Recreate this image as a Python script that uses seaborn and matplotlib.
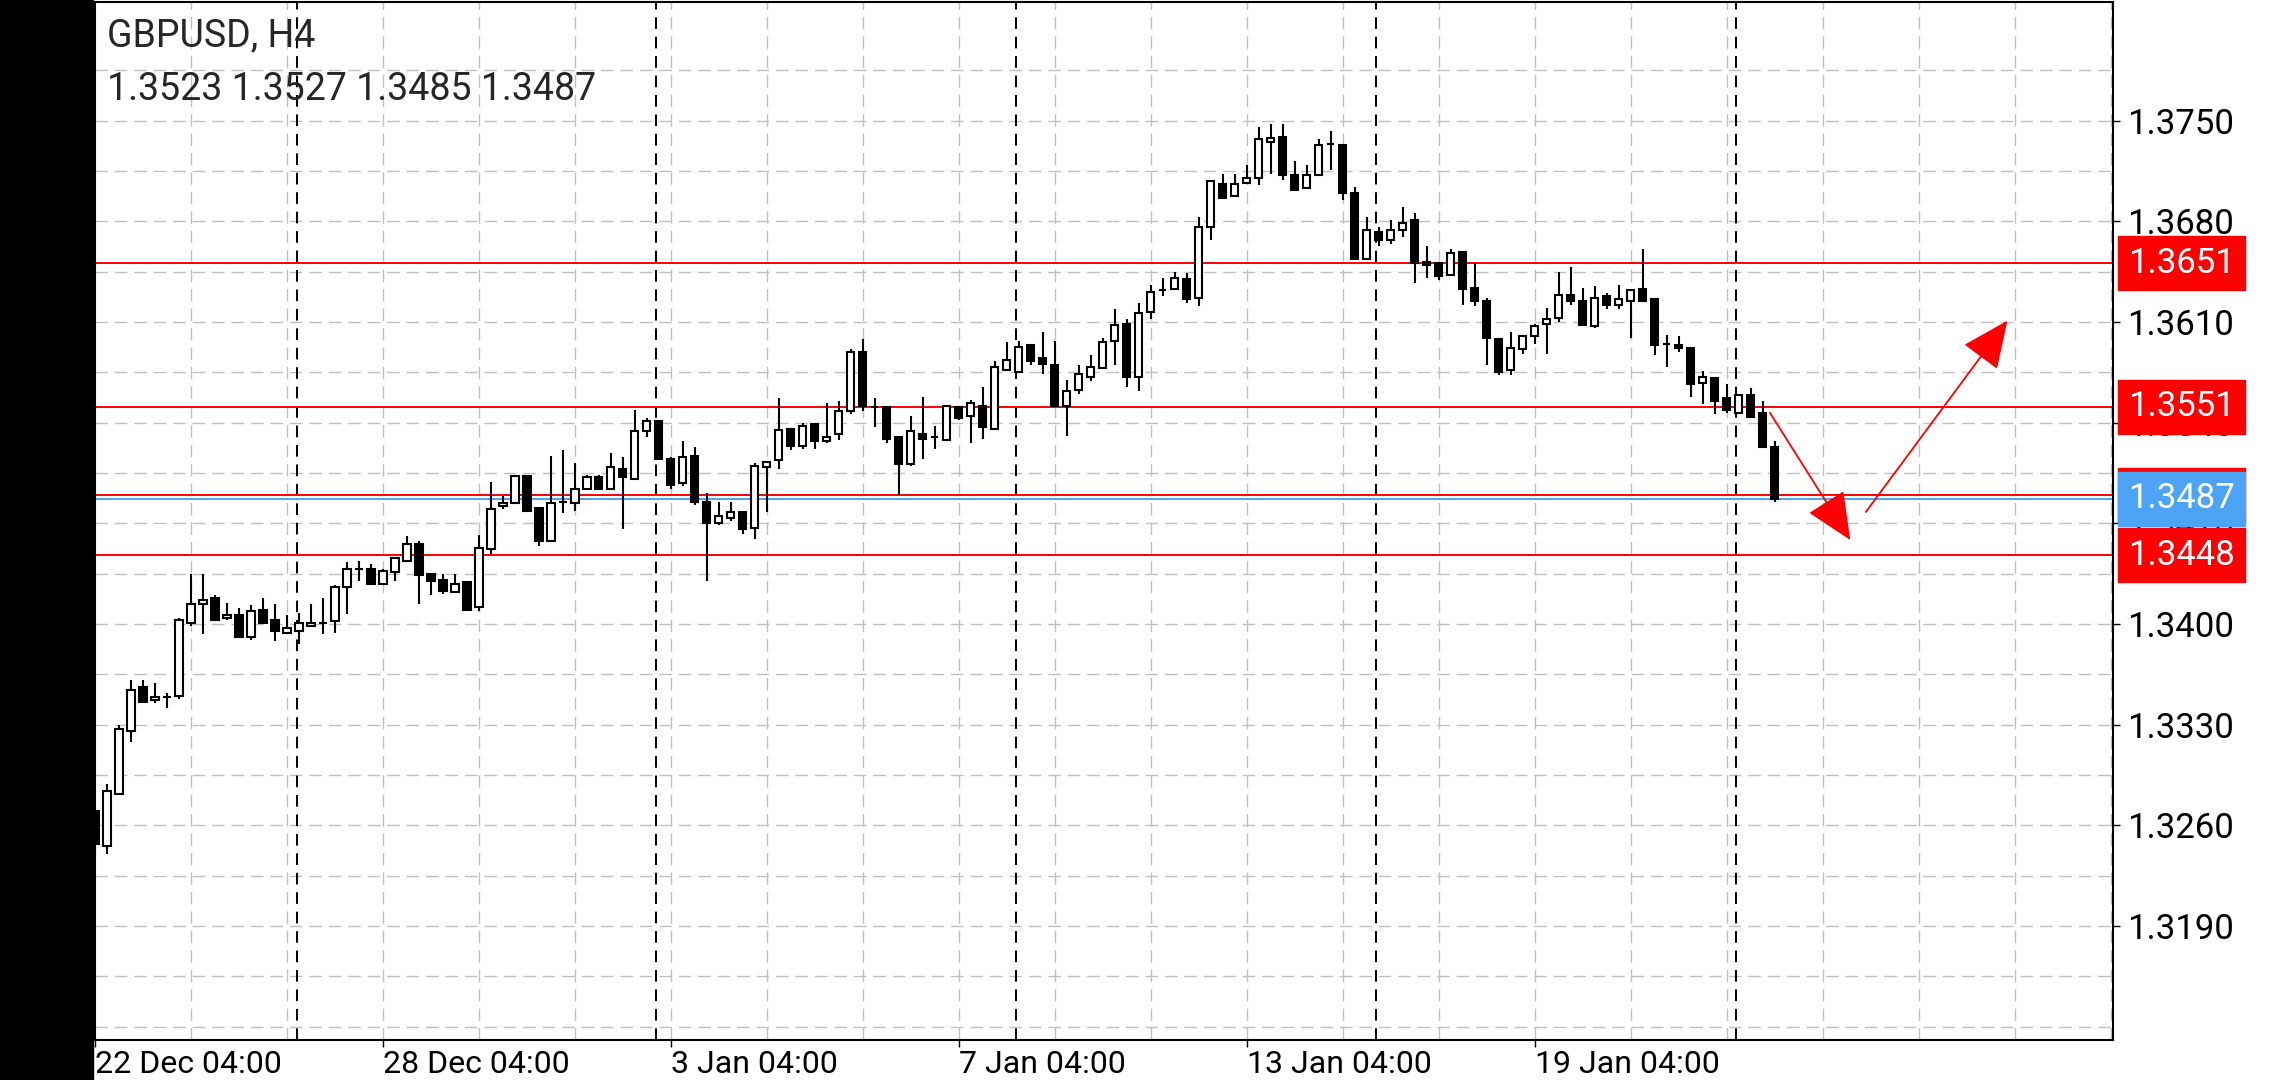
import numpy as np
import pandas as pd
import matplotlib
matplotlib.use("Agg")
import matplotlib.pyplot as plt
from matplotlib.patches import Rectangle
from matplotlib.transforms import blended_transform_factory
import seaborn as sns

symbol = "GBPUSD, H4"
ohlc_text = "1.3523 1.3527 1.3485 1.3487"

opens = [1.3270, 1.3246, 1.3282, 1.3326, 1.3356, 1.3347, 1.3349, 1.3350, 1.3401, 1.3414,
         1.3418, 1.3404, 1.3406, 1.3391, 1.3410, 1.3403, 1.3394, 1.3395, 1.3399, 1.3401,
         1.3402, 1.3426, 1.3438, 1.3438, 1.3428, 1.3436, 1.3444, 1.3456, 1.3435, 1.3431,
         1.3422, 1.3429, 1.3412, 1.3452, 1.3482, 1.3484, 1.3503, 1.3481, 1.3458, 1.3485,
         1.3484, 1.3494, 1.3502, 1.3494, 1.3508, 1.3501, 1.3534, 1.3541, 1.3515, 1.3498,
         1.3517, 1.3485, 1.3470, 1.3474, 1.3478, 1.3467, 1.3509, 1.3514, 1.3536, 1.3524,
         1.3539, 1.3527, 1.3532, 1.3548, 1.3589, 1.3551, 1.3551, 1.3530, 1.3511, 1.3532,
         1.3530, 1.3528, 1.3551, 1.3545, 1.3552, 1.3536, 1.3577, 1.3575, 1.3594, 1.3585,
         1.3580, 1.3552, 1.3563, 1.3572, 1.3578, 1.3597, 1.3609, 1.3572, 1.3617, 1.3632,
         1.3633, 1.3640, 1.3627, 1.3676, 1.3706, 1.3698, 1.3707, 1.3710, 1.3735, 1.3739,
         1.3712, 1.3703, 1.3712, 1.3734, 1.3733, 1.3700, 1.3654, 1.3673, 1.3667, 1.3674,
         1.3681, 1.3652, 1.3651, 1.3643, 1.3659, 1.3634, 1.3625, 1.3598, 1.3577, 1.3591,
         1.3600, 1.3609, 1.3613, 1.3629, 1.3625, 1.3607, 1.3628, 1.3622, 1.3625, 1.3633,
         1.3626, 1.3595, 1.3594, 1.3592, 1.3568, 1.3571, 1.3557, 1.3547, 1.3559, 1.3547,
         1.3523]
highs = [1.3272, 1.3289, 1.3330, 1.3361, 1.3361, 1.3359, 1.3352, 1.3404, 1.3435, 1.3435,
         1.3420, 1.3415, 1.3411, 1.3413, 1.3418, 1.3414, 1.3406, 1.3408, 1.3414, 1.3418,
         1.3427, 1.3443, 1.3444, 1.3442, 1.3438, 1.3446, 1.3461, 1.3458, 1.3435, 1.3435,
         1.3435, 1.3429, 1.3462, 1.3499, 1.3489, 1.3504, 1.3504, 1.3481, 1.3517, 1.3521,
         1.3512, 1.3504, 1.3504, 1.3519, 1.3516, 1.3549, 1.3543, 1.3541, 1.3516, 1.3527,
         1.3523, 1.3491, 1.3485, 1.3485, 1.3478, 1.3512, 1.3513, 1.3557, 1.3536, 1.3540,
         1.3539, 1.3554, 1.3555, 1.3591, 1.3598, 1.3557, 1.3551, 1.3530, 1.3545, 1.3558,
         1.3538, 1.3552, 1.3551, 1.3556, 1.3565, 1.3583, 1.3596, 1.3597, 1.3595, 1.3603,
         1.3597, 1.3570, 1.3580, 1.3587, 1.3599, 1.3619, 1.3612, 1.3623, 1.3636, 1.3641,
         1.3645, 1.3644, 1.3683, 1.3708, 1.3713, 1.3713, 1.3719, 1.3746, 1.3748, 1.3748,
         1.3722, 1.3719, 1.3737, 1.3743, 1.3733, 1.3704, 1.3683, 1.3676, 1.3681, 1.3690,
         1.3686, 1.3663, 1.3651, 1.3661, 1.3659, 1.3651, 1.3627, 1.3598, 1.3603, 1.3600,
         1.3609, 1.3620, 1.3645, 1.3648, 1.3634, 1.3635, 1.3630, 1.3636, 1.3633, 1.3661,
         1.3626, 1.3601, 1.3600, 1.3592, 1.3576, 1.3571, 1.3567, 1.3559, 1.3564, 1.3555,
         1.3527]
lows = [1.3240, 1.3240, 1.3282, 1.3318, 1.3346, 1.3345, 1.3342, 1.3348, 1.3399, 1.3393,
        1.3403, 1.3403, 1.3391, 1.3389, 1.3401, 1.3388, 1.3393, 1.3386, 1.3398, 1.3393,
        1.3394, 1.3407, 1.3430, 1.3428, 1.3427, 1.3430, 1.3444, 1.3414, 1.3420, 1.3421,
        1.3422, 1.3409, 1.3409, 1.3449, 1.3480, 1.3484, 1.3479, 1.3454, 1.3458, 1.3477,
        1.3479, 1.3494, 1.3494, 1.3494, 1.3466, 1.3501, 1.3530, 1.3515, 1.3494, 1.3496,
        1.3483, 1.3430, 1.3469, 1.3472, 1.3463, 1.3459, 1.3478, 1.3508, 1.3521, 1.3522,
        1.3522, 1.3526, 1.3528, 1.3546, 1.3548, 1.3537, 1.3526, 1.3490, 1.3510, 1.3515,
        1.3522, 1.3527, 1.3542, 1.3526, 1.3529, 1.3535, 1.3576, 1.3575, 1.3580, 1.3574,
        1.3552, 1.3531, 1.3560, 1.3569, 1.3578, 1.3580, 1.3565, 1.3562, 1.3612, 1.3628,
        1.3633, 1.3623, 1.3621, 1.3667, 1.3696, 1.3698, 1.3707, 1.3705, 1.3713, 1.3709,
        1.3701, 1.3703, 1.3712, 1.3716, 1.3695, 1.3654, 1.3653, 1.3663, 1.3664, 1.3669,
        1.3637, 1.3641, 1.3639, 1.3643, 1.3622, 1.3621, 1.3580, 1.3573, 1.3573, 1.3588,
        1.3595, 1.3588, 1.3610, 1.3622, 1.3608, 1.3606, 1.3619, 1.3619, 1.3599, 1.3625,
        1.3587, 1.3579, 1.3589, 1.3558, 1.3553, 1.3546, 1.3547, 1.3547, 1.3544, 1.3523,
        1.3485]
closes = [1.3247, 1.3284, 1.3327, 1.3354, 1.3346, 1.3349, 1.3349, 1.3403, 1.3414, 1.3417,
          1.3403, 1.3406, 1.3391, 1.3409, 1.3401, 1.3395, 1.3397, 1.3401, 1.3401, 1.3401,
          1.3426, 1.3438, 1.3438, 1.3428, 1.3437, 1.3446, 1.3456, 1.3434, 1.3430, 1.3423,
          1.3428, 1.3410, 1.3453, 1.3480, 1.3484, 1.3503, 1.3479, 1.3458, 1.3484, 1.3485,
          1.3494, 1.3502, 1.3494, 1.3509, 1.3502, 1.3534, 1.3541, 1.3515, 1.3497, 1.3516,
          1.3485, 1.3470, 1.3475, 1.3478, 1.3466, 1.3510, 1.3513, 1.3535, 1.3524, 1.3538,
          1.3527, 1.3530, 1.3548, 1.3589, 1.3552, 1.3551, 1.3529, 1.3511, 1.3534, 1.3529,
          1.3530, 1.3552, 1.3543, 1.3554, 1.3537, 1.3579, 1.3584, 1.3593, 1.3583, 1.3581,
          1.3552, 1.3562, 1.3574, 1.3579, 1.3596, 1.3608, 1.3572, 1.3616, 1.3631, 1.3632,
          1.3641, 1.3626, 1.3676, 1.3708, 1.3696, 1.3706, 1.3710, 1.3737, 1.3738, 1.3712,
          1.3702, 1.3712, 1.3733, 1.3734, 1.3700, 1.3654, 1.3674, 1.3667, 1.3674, 1.3679,
          1.3651, 1.3650, 1.3642, 1.3658, 1.3633, 1.3625, 1.3599, 1.3575, 1.3592, 1.3600,
          1.3607, 1.3612, 1.3629, 1.3625, 1.3608, 1.3627, 1.3622, 1.3626, 1.3632, 1.3625,
          1.3594, 1.3595, 1.3592, 1.3567, 1.3572, 1.3555, 1.3549, 1.3559, 1.3544, 1.3523,
          1.3487]

price_ticks = [1.3190, 1.3260, 1.3330, 1.3400, 1.3470, 1.3540, 1.3610, 1.3680, 1.3750]
time_labels = ["22 Dec 04:00", "28 Dec 04:00", "3 Jan 04:00", "7 Jan 04:00", "13 Jan 04:00", "19 Jan 04:00"]
time_label_bars = [0, 24, 48, 72, 96, 120]
separator_bars = [16.8, 46.8, 76.8, 106.8, 136.8]
levels = [1.3651, 1.3551, 1.3490, 1.3448]
bid = 1.3487
arrow1 = [(139.6, 1.3547), (146.3, 1.34585)]
arrow2 = [(147.6, 1.3478), (159.4, 1.3611)]

df = pd.DataFrame({"open": opens, "high": highs, "low": lows, "close": closes})
df["bar"] = np.arange(len(df))

sns.set_theme(style="white")
plt.rcParams['font.family'] = ['Roboto', 'DejaVu Sans']

RED = "#ff0000"
BLUE = "#4da3f5"

fig = plt.figure(figsize=(22.8, 10.8), dpi=100)
fig.patches.append(Rectangle((0, 0), 93 / 2280, 1, transform=fig.transFigure, color="black", zorder=0))
ax = fig.add_axes([95 / 2280, 40 / 1080, (2113 - 95) / 2280, 1038 / 1080])

grid_kw = dict(color="#c0c0c0", lw=1.0, dashes=(9, 5), zorder=0)
for y in np.arange(1.3120, 1.3800, 0.0035):
    ax.axhline(y, **grid_kw)
for x in range(8, 169, 8):
    ax.axvline(x, **grid_kw)
for x in separator_bars:
    ax.axvline(x, color="black", lw=1.4, dashes=(6, 4), zorder=1)

for lv in levels:
    ax.axhline(lv, color=RED, lw=1.4, zorder=2)
ax.axhline(bid, color=BLUE, lw=1.4, zorder=2)

# candles
ax.vlines(df["bar"], df["low"], df["high"], color="black", lw=1.5, zorder=3)
up = df[df.close >= df.open]
dn = df[df.close < df.open]
ax.bar(up["bar"], up["close"] - up["open"], bottom=up["open"], width=0.6,
       color="white", edgecolor="black", linewidth=1.5, zorder=4)
ax.bar(dn["bar"], dn["open"] - dn["close"], bottom=dn["close"], width=0.6,
       color="black", edgecolor="black", linewidth=1.5, zorder=4)

for (x0, y0), (x1, y1) in [arrow1, arrow2]:
    ax.annotate("", xy=(x1, y1), xytext=(x0, y0),
                arrowprops=dict(arrowstyle="-|>,head_length=1.0,head_width=0.45",
                                color=RED, lw=1.3, mutation_scale=30, shrinkA=0, shrinkB=0),
                zorder=5)

ax.set_xlim(0, 168.2)
ax.set_ylim(1.31108, 1.38326)
ax.yaxis.tick_right()
ax.set_yticks(price_ticks)
ax.set_yticklabels([f"{t:.4f}" for t in price_ticks], fontsize=25)
ax.set_xticks(time_label_bars)
ax.set_xticklabels(time_labels, fontsize=23, ha="left")
ax.tick_params(axis="y", direction="out", length=5, width=1, pad=5, colors="black", right=True)
ax.tick_params(axis="x", direction="out", length=5, width=1, pad=2, colors="black", bottom=True)
for s in ax.spines.values():
    s.set_color("black")
    s.set_linewidth(1.5)

tr = blended_transform_factory(ax.transAxes, ax.transData)
for lv, txt, col, z in [(1.3651, "1.3651", RED, 6), (1.3551, "1.3551", RED, 6),
                        (1.3490, "1.3490", RED, 6), (bid, "1.3487", BLUE, 7),
                        (1.3448, "1.3448", RED, 6)]:
    ax.text(1.0075, lv, txt, transform=tr, fontsize=25, color="white", va="center", ha="left",
            bbox=dict(boxstyle="square,pad=0.3", fc=col, ec=col), zorder=z, clip_on=False)

fig.text(107 / 2280, 1 - 36 / 1080, symbol, fontsize=27, va="center", ha="left")
fig.text(107 / 2280, 1 - 90 / 1080, ohlc_text, fontsize=27, va="center", ha="left")

fig.savefig("out.png", dpi=100, facecolor="white")
